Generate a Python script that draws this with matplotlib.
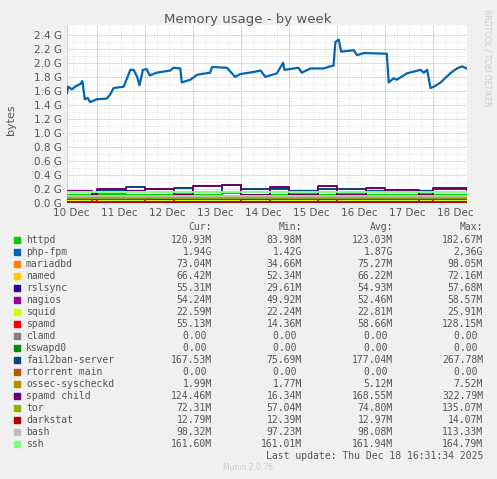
import numpy as np
import matplotlib
matplotlib.use("Agg")
import matplotlib.pyplot as plt

W, H = 497, 479

# php-fpm (days since 10 Dec 00:00, GB)
php_t = [0.37, 0.40, 0.47, 0.54, 0.65, 0.69, 0.74, 0.80, 0.85, 0.99, 1.20, 1.27, 1.34, 1.55, 1.62,
         1.69, 1.76, 1.83, 1.88, 1.95, 2.03, 2.09, 2.24, 2.52, 2.59, 2.73, 2.76, 2.94, 3.08, 3.35,
         3.39, 3.70, 3.87, 3.98, 4.26, 4.40, 4.50, 4.74, 4.87, 4.90, 5.19, 5.26, 5.44, 5.72, 5.85,
         5.92, 5.96, 6.03, 6.08, 6.34, 6.41, 6.55, 7.03, 7.07, 7.17, 7.24, 7.45, 7.73, 7.80, 7.87,
         7.94, 8.01, 8.15, 8.35, 8.49, 8.60, 8.69]
php_v = [1.57, 1.66, 1.62, 1.66, 1.70, 1.74, 1.48, 1.50, 1.44, 1.48, 1.49, 1.55, 1.64, 1.66, 1.78,
         1.90, 1.90, 1.80, 1.68, 1.90, 1.91, 1.82, 1.86, 1.89, 1.93, 1.92, 1.72, 1.76, 1.83, 1.86,
         1.94, 1.93, 1.80, 1.84, 1.87, 1.89, 1.80, 1.85, 2.00, 1.90, 1.93, 1.86, 1.92, 1.92, 1.95,
         1.96, 2.30, 2.33, 2.16, 2.18, 2.11, 2.14, 2.13, 1.72, 1.78, 1.76, 1.85, 1.90, 1.86, 1.90,
         1.64, 1.66, 1.72, 1.85, 1.92, 1.95, 1.92]

# other processes, coarse step traces (GB)
low_t = [0.37, 0.9, 1.0, 1.6, 2.0, 2.6, 3.0, 3.6, 4.0, 4.6, 5.0, 5.6, 6.0, 6.6, 7.0, 7.7, 8.0, 8.7]
spamdchild_v = [0.17, 0.12, 0.20, 0.17, 0.20, 0.12, 0.24, 0.25, 0.12, 0.23, 0.12, 0.24, 0.12, 0.22, 0.19, 0.12, 0.22, 0.18]
fail2ban_v = [0.15, 0.14, 0.18, 0.23, 0.20, 0.21, 0.16, 0.26, 0.20, 0.20, 0.17, 0.20, 0.20, 0.17, 0.16, 0.17, 0.20, 0.17]
ssh_v = [0.16] * 18
bash_v = [0.098] * 18
httpd_v = [0.12, 0.11, 0.13, 0.12, 0.11, 0.13, 0.12, 0.14, 0.12, 0.11, 0.13, 0.12, 0.14, 0.12, 0.11, 0.13, 0.12, 0.12]
tor_v = [0.072, 0.075, 0.07, 0.074, 0.07, 0.076, 0.072, 0.07, 0.075, 0.073, 0.07, 0.074, 0.072, 0.075, 0.07, 0.073, 0.072, 0.072]
mariadb_v = [0.07, 0.075, 0.08, 0.07, 0.075, 0.078, 0.072, 0.075, 0.09, 0.07, 0.075, 0.08, 0.072, 0.075, 0.078, 0.07, 0.073, 0.073]
named_v = [0.066] * 18
rslsync_v = [0.055] * 18
nagios_v = [0.052] * 18
spamd_v = [0.06, 0.02, 0.06, 0.05, 0.02, 0.06, 0.05, 0.06, 0.02, 0.06, 0.06, 0.02, 0.06, 0.05, 0.06, 0.02, 0.06, 0.055]
squid_v = [0.023] * 18
darkstat_v = [0.013] * 18
ossec_v = [0.005] * 18
zero_v = [0.0] * 18

names = ["httpd", "php-fpm", "mariadbd", "named", "rslsync", "nagios", "squid", "spamd", "clamd",
         "kswapd0", "fail2ban-server", "rtorrent main", "ossec-syscheckd", "spamd child", "tor",
         "darkstat", "bash", "ssh"]
colors = ["#00cc00", "#0066b3", "#ff8000", "#ffcc00", "#330099", "#990099", "#ccff00", "#ff0000",
          "#808080", "#008f00", "#00487d", "#b35a00", "#b38f00", "#6b006b", "#8fb300", "#b30000",
          "#bebebe", "#80ff80"]
cur = ["120.93M", "1.94G", "73.04M", "66.42M", "55.31M", "54.24M", "22.59M", "55.13M", "0.00 ",
       "0.00 ", "167.53M", "0.00 ", "1.99M", "124.46M", "72.31M", "12.79M", "98.32M", "161.60M"]
mins = ["83.98M", "1.42G", "34.66M", "52.34M", "29.61M", "49.92M", "22.24M", "14.36M", "0.00 ",
        "0.00 ", "75.69M", "0.00 ", "1.77M", "16.34M", "57.04M", "12.39M", "97.23M", "161.01M"]
avgs = ["123.03M", "1.87G", "75.27M", "66.22M", "54.93M", "52.46M", "22.81M", "58.66M", "0.00 ",
        "0.00 ", "177.04M", "0.00 ", "5.12M", "168.55M", "74.80M", "12.97M", "98.08M", "161.94M"]
maxs = ["182.67M", "2.36G", "98.05M", "72.16M", "57.68M", "58.57M", "25.91M", "128.15M", "0.00 ",
        "0.00 ", "267.78M", "0.00 ", "7.52M", "322.79M", "135.07M", "14.07M", "113.33M", "164.79M"]

series = [httpd_v, None, mariadb_v, named_v, rslsync_v, nagios_v, squid_v, spamd_v, zero_v,
          zero_v, fail2ban_v, zero_v, ossec_v, spamdchild_v, tor_v, darkstat_v, bash_v, ssh_v]

fig = plt.figure(figsize=(W / 100, H / 100), dpi=100, facecolor="#f0f0f0")
ax = fig.add_axes([67 / W, 1 - 203 / H, 400 / W, 178 / H], facecolor="white")

for name, col, vals in zip(names, colors, series):
    if vals is None:
        ax.plot(php_t, php_v, color=col, lw=1.6, zorder=3)
    else:
        ax.plot(low_t, vals, color=col, lw=1.4, drawstyle="steps-post", zorder=3)

ax.set_xlim(0.37, 8.7)
ax.set_ylim(0, 2.54)
ax.set_yticks(np.arange(0, 2.41, 0.2))
ax.set_yticklabels(["%.1f G" % v for v in np.arange(0, 2.41, 0.2)])
ax.set_xticks(np.arange(0.45, 9, 1))
ax.set_xticklabels(["%d Dec" % d for d in range(10, 19)])
ax.tick_params(length=0, which="both", labelsize=7.5, colors="#555555")
ax.grid(False)
for d in np.arange(0.5, 8.8, 0.25):
    ax.axvline(d, color="#dddddd", lw=0.6, ls=(0, (1, 1)), zorder=1)
for d in range(1, 9):
    ax.axvline(d, color="#e8a0a0", lw=0.6, ls=(0, (1, 1)), zorder=1.5)
for v in np.arange(0.1, 2.5, 0.2):
    ax.axhline(v, color="#dddddd", lw=0.6, ls=(0, (1, 1)), zorder=1)
for v in np.arange(0.2, 2.5, 0.2):
    ax.axhline(v, color="#e8a0a0", lw=0.6, ls=(0, (1, 1)), zorder=1.5)
for s in ax.spines.values():
    s.set_visible(False)
ax.axhline(0, color="#ccccff", lw=0.8, zorder=2)
ax.axvline(0.37, color="#ccccff", lw=0.8, zorder=2)

def ftext(x, y, s, **kw):
    fig.text(x / W, 1 - y / H, s, **kw)

ftext(248, 19, "Memory usage - by week", ha="center", va="center", fontsize=9.5, color="#555555")
ftext(11, 120, "bytes", ha="center", va="center", rotation=90, fontsize=8, color="#555555")
ftext(487, 58, "RRDTOOL / TOBI OETIKER", ha="center", va="center", rotation=270, fontsize=5.5, color="#cccccc")

mono = dict(family="DejaVu Sans Mono", fontsize=7, color="#555555", va="center")
ftext(212, 227, "Cur:", ha="right", **mono)
ftext(302, 227, "Min:", ha="right", **mono)
ftext(393, 227, "Avg:", ha="right", **mono)
ftext(483, 227, "Max:", ha="right", **mono)
for i, name in enumerate(names):
    y = 240 + i * 12
    fig.patches.append(plt.Rectangle(((14) / W, 1 - (y + 3) / H), 6 / W, 6 / H,
                                     transform=fig.transFigure, color=colors[i], figure=fig))
    ftext(26, y, name, ha="left", **mono)
    ftext(212, y, cur[i], ha="right", **mono)
    ftext(302, y, mins[i], ha="right", **mono)
    ftext(393, y, avgs[i], ha="right", **mono)
    ftext(483, y, maxs[i], ha="right", **mono)
ftext(483, 456, "Last update: Thu Dec 18 16:31:34 2025", ha="right", **mono)
ftext(248, 468, "Munin 2.0.76", ha="center", va="center", fontsize=5.5, color="#cccccc")

fig.savefig("out.png", dpi=100, facecolor=fig.get_facecolor())
